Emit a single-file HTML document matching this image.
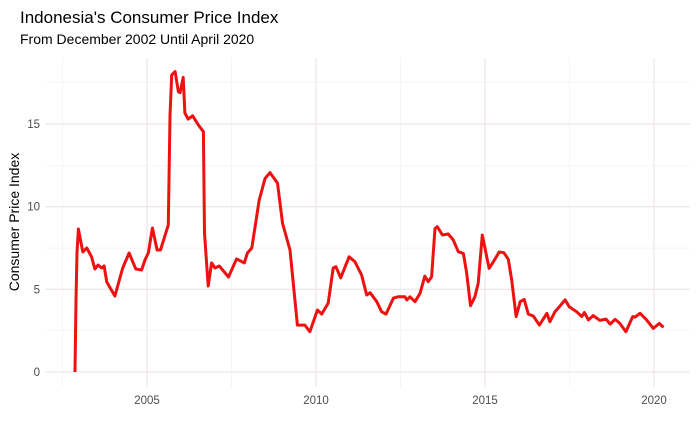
<!DOCTYPE html>
<html><head><meta charset="utf-8"><style>
body{margin:0;background:#fff;}
svg{display:block;font-family:"Liberation Sans",Arial,sans-serif;}
</style></head><body>
<svg id="chart" width="700" height="432" viewBox="0 0 700 432">
<text x="20" y="23" font-size="17" fill="#000">Indonesia's Consumer Price Index</text>
<text x="20" y="44" font-size="14" fill="#000">From December 2002 Until April 2020</text>
<text transform="translate(19,222) rotate(-90)" text-anchor="middle" font-size="14" fill="#000">Consumer Price Index</text>
<g id="grid"></g><g id="ticks"></g><g id="series"></g>
</svg>
<script>
const years=[2002.87,2002.9,2002.93,2002.97,2003.1,2003.22,2003.36,2003.46,2003.55,2003.66,2003.73,2003.81,2004.05,2004.28,2004.47,2004.67,2004.84,2004.94,2005.04,2005.16,2005.3,2005.4,2005.63,2005.68,2005.73,2005.83,2005.93,2005.98,2006.07,2006.12,2006.22,2006.35,2006.52,2006.67,2006.7,2006.81,2006.91,2007.01,2007.14,2007.41,2007.65,2007.88,2007.97,2008.1,2008.32,2008.49,2008.64,2008.86,2009.01,2009.23,2009.45,2009.67,2009.82,2010.04,2010.17,2010.36,2010.51,2010.59,2010.73,2010.98,2011.15,2011.35,2011.5,2011.6,2011.8,2011.94,2012.07,2012.29,2012.43,2012.63,2012.69,2012.78,2012.93,2013.08,2013.22,2013.32,2013.42,2013.52,2013.59,2013.74,2013.91,2014.06,2014.21,2014.36,2014.46,2014.57,2014.7,2014.8,2014.92,2015.12,2015.25,2015.42,2015.56,2015.69,2015.79,2015.92,2016.04,2016.16,2016.28,2016.43,2016.61,2016.83,2016.92,2017.07,2017.2,2017.37,2017.49,2017.71,2017.86,2017.94,2018.06,2018.2,2018.4,2018.58,2018.7,2018.85,2018.99,2019.17,2019.37,2019.44,2019.59,2019.78,2019.98,2020.16,2020.28];
const cpi=[0.0,4.35,7.2,8.65,7.26,7.5,6.96,6.23,6.47,6.29,6.41,5.44,4.6,6.29,7.2,6.23,6.17,6.78,7.22,8.71,7.38,7.38,8.9,15.5,17.97,18.17,16.95,16.9,17.82,15.67,15.3,15.5,14.94,14.54,8.4,5.2,6.6,6.29,6.41,5.75,6.84,6.6,7.2,7.5,10.4,11.7,12.06,11.43,9.01,7.38,2.84,2.84,2.44,3.75,3.5,4.17,6.29,6.37,5.69,6.97,6.67,5.87,4.66,4.8,4.25,3.65,3.5,4.47,4.55,4.55,4.36,4.55,4.25,4.77,5.8,5.46,5.76,8.68,8.79,8.29,8.35,7.99,7.28,7.17,5.97,4.01,4.55,5.38,8.29,6.27,6.67,7.26,7.22,6.82,5.57,3.35,4.25,4.39,3.5,3.39,2.84,3.55,3.04,3.65,3.95,4.36,3.95,3.65,3.35,3.6,3.15,3.41,3.12,3.2,2.9,3.18,2.94,2.44,3.35,3.32,3.55,3.15,2.64,2.94,2.7];
const xTicks=[2005,2010,2015,2020];
const xMinor=[2002.5,2007.5,2012.5,2017.5];
const yTicks=[0,5,10,15];
const yMinor=[2.5,7.5,12.5,17.5];
const NS='http://www.w3.org/2000/svg';
const X=v=>147+(v-2005)*33.8;
const Y=v=>372-v*16.53;
const L=45,R=690,T=58,B=387;
function mk(tag,attrs,parent,txt){const e=document.createElementNS(NS,tag);for(const k in attrs)e.setAttribute(k,attrs[k]);if(txt!==undefined)e.textContent=txt;document.getElementById(parent).appendChild(e);return e;}
yMinor.forEach(v=>{const e=mk('line',{x1:L,x2:R,y1:Y(v),y2:Y(v),stroke:'#f3ecef','stroke-width':0.6},'grid');

});
xMinor.forEach(v=>{const e=mk('line',{x1:X(v),x2:X(v),y1:T,y2:B,stroke:'#f3ecef','stroke-width':0.6},'grid');

});
yTicks.forEach(v=>{const e=mk('line',{x1:L,x2:R,y1:Y(v),y2:Y(v),stroke:'#ebe3e6','stroke-width':1.1},'grid');


const t=mk('text',{x:40,y:Y(v)+4,'text-anchor':'end','font-size':11.5,fill:'#4d4d4d'},'ticks',String(v));

});
xTicks.forEach(v=>{const e=mk('line',{x1:X(v),x2:X(v),y1:T,y2:B,stroke:'#ebe3e6','stroke-width':1.1},'grid');


const t=mk('text',{x:X(v),y:404,'text-anchor':'middle','font-size':11.5,fill:'#4d4d4d'},'ticks',String(v));

});
const d=years.map((y,i)=>(i?'L':'M')+X(y).toFixed(1)+','+Y(cpi[i]).toFixed(1)).join('');
const p=mk('path',{d:d,fill:'none',stroke:'#ee1111','stroke-width':3,'stroke-linejoin':'round'},'series');


</script>
</body></html>
